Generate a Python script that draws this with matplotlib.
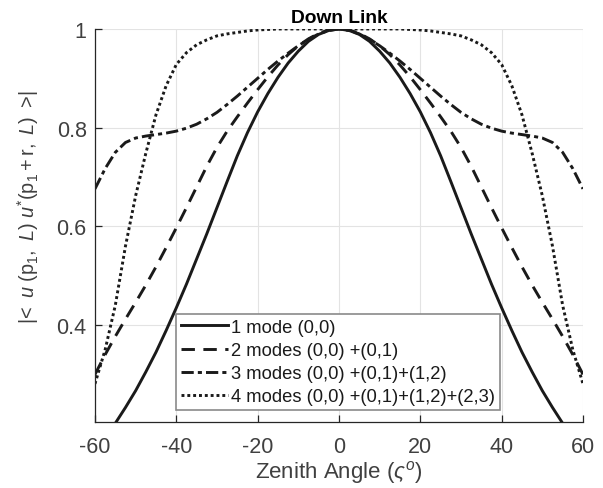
import matplotlib
matplotlib.use("Agg")
import matplotlib.pyplot as plt
from matplotlib.ticker import FixedLocator, FixedFormatter

plt.rcParams['font.family'] = ['Liberation Sans', 'DejaVu Sans']
plt.rcParams['mathtext.fontset'] = 'custom'
plt.rcParams['mathtext.rm'] = 'Liberation Sans'
plt.rcParams['mathtext.it'] = 'Liberation Sans:italic'
plt.rcParams['mathtext.bf'] = 'Liberation Sans:bold'
plt.rcParams['axes.unicode_minus'] = False

# ---- data ----
angles = [-60, -57.5, -55, -52.5, -50, -47.5, -45, -42.5, -40, -37.5, -35, -32.5,
          -30, -27.5, -25, -22.5, -20, -17.5, -15, -12.5, -10, -7.5, -5, -2.5, 0,
          2.5, 5, 7.5, 10, 12.5, 15, 17.5, 20, 22.5, 25, 27.5, 30, 32.5, 35, 37.5,
          40, 42.5, 45, 47.5, 50, 52.5, 55, 57.5, 60]

mode1 = [0.149, 0.174, 0.201, 0.233, 0.267, 0.305, 0.345, 0.389, 0.435, 0.483, 0.534, 0.585,
         0.638, 0.691, 0.743, 0.790, 0.832, 0.869, 0.902, 0.931, 0.955, 0.975, 0.989, 0.997, 1.000,
         0.997, 0.989, 0.975, 0.955, 0.931, 0.902, 0.869, 0.832, 0.790, 0.743, 0.691, 0.638, 0.585,
         0.534, 0.483, 0.435, 0.389, 0.345, 0.305, 0.267, 0.233, 0.201, 0.174, 0.149]

mode2 = [0.300, 0.340, 0.377, 0.412, 0.446, 0.481, 0.518, 0.557, 0.597, 0.638, 0.680, 0.722,
         0.760, 0.793, 0.822, 0.850, 0.877, 0.903, 0.927, 0.948, 0.966, 0.980, 0.991, 0.998, 1.000,
         0.998, 0.991, 0.980, 0.966, 0.948, 0.927, 0.903, 0.877, 0.850, 0.822, 0.793, 0.760, 0.722,
         0.680, 0.638, 0.597, 0.557, 0.518, 0.481, 0.446, 0.412, 0.377, 0.340, 0.300]

mode3 = [0.676, 0.717, 0.750, 0.770, 0.779, 0.783, 0.786, 0.789, 0.793, 0.799, 0.807, 0.818,
         0.831, 0.847, 0.864, 0.882, 0.900, 0.918, 0.935, 0.951, 0.966, 0.979, 0.990, 0.997, 1.000,
         0.997, 0.990, 0.979, 0.966, 0.951, 0.935, 0.918, 0.900, 0.882, 0.864, 0.847, 0.831, 0.818,
         0.807, 0.799, 0.793, 0.789, 0.786, 0.783, 0.779, 0.770, 0.750, 0.717, 0.676]

mode4 = [0.281, 0.350, 0.440, 0.560, 0.662, 0.748, 0.826, 0.885, 0.928, 0.952, 0.968, 0.978,
         0.986, 0.990, 0.993, 0.996, 0.998, 0.999, 1.000, 1.000, 1.000, 1.000, 1.000, 1.000, 1.000,
         1.000, 1.000, 1.000, 1.000, 1.000, 1.000, 0.999, 0.998, 0.996, 0.993, 0.990, 0.986, 0.978,
         0.968, 0.952, 0.928, 0.885, 0.826, 0.748, 0.662, 0.560, 0.440, 0.350, 0.281]

labels = ['1 mode (0,0)',
          '2 modes (0,0) +(0,1)',
          '3 modes (0,0) +(0,1)+(1,2)',
          '4 modes (0,0) +(0,1)+(1,2)+(2,3)']

xticks = [-60, -40, -20, 0, 20, 40, 60]
yticks = [0.4, 0.6, 0.8, 1.0]
yticklabels = ['0.4', '0.6', '0.8', '1']

# ---- figure ----
fig = plt.figure(figsize=(6.03, 4.89), dpi=100)
ax = fig.add_axes([0.1575, 0.135, 0.8093, 0.8037])

lc = '#1a1a1a'
lw = 2.1
ax.plot(angles, mode1, color=lc, lw=lw, linestyle='-', label=labels[0])
ax.plot(angles, mode2, color=lc, lw=lw, linestyle=(0, (4.6, 2.9)), label=labels[1])
ax.plot(angles, mode3, color=lc, lw=lw, linestyle=(0, (4.2, 1.4, 1.4, 1.4)), label=labels[2])
ax.plot(angles, mode4, color=lc, lw=lw, linestyle=(0, (1.0, 1.0)), label=labels[3])

ax.set_xlim(-60, 60)
ax.set_ylim(0.2036, 1.0)
ax.xaxis.set_major_locator(FixedLocator(xticks))
ax.yaxis.set_major_locator(FixedLocator(yticks))
ax.yaxis.set_major_formatter(FixedFormatter(yticklabels))

axis_col = '#262626'
ax.grid(True, color='#e3e3e3', linewidth=0.8)
ax.set_axisbelow(True)
for s in ['top', 'right']:
    ax.spines[s].set_visible(False)
for s in ['left', 'bottom']:
    ax.spines[s].set_color(axis_col)
    ax.spines[s].set_linewidth(0.9)
ax.tick_params(direction='in', length=5, width=0.9, colors=axis_col,
               labelsize=15.5, labelcolor='#404040')
ax.tick_params(axis='y', pad=6)
ax.tick_params(axis='x', pad=10)

ax.set_xlabel(r'Zenith Angle ($\varsigma^{o}$)', fontsize=16, color='#404040', labelpad=1)
ax.set_ylabel(r'$|\!<\ u\ (\mathrm{p}_1,\ L)\ u^{*}(\mathrm{p}_1 + \mathrm{r},\ L)\ >\!|$',
              fontsize=14.3, color='#404040')
ax.yaxis.set_label_coords(-0.111, 0.55)
ax.set_title('Down Link', fontsize=13.8, fontweight='bold', color='black', pad=5)

leg = ax.legend(loc='lower left', bbox_to_anchor=(0.166, 0.03), borderaxespad=0,
                fontsize=13.2, handlelength=2.57, handletextpad=0.15, labelspacing=0.33,
                borderpad=0.28, fancybox=False, framealpha=1, edgecolor='#8a8a8a')
leg.get_frame().set_linewidth(1.2)
for t in leg.get_texts():
    t.set_color('#1a1a1a')

fig.savefig('out.png', dpi=100)
